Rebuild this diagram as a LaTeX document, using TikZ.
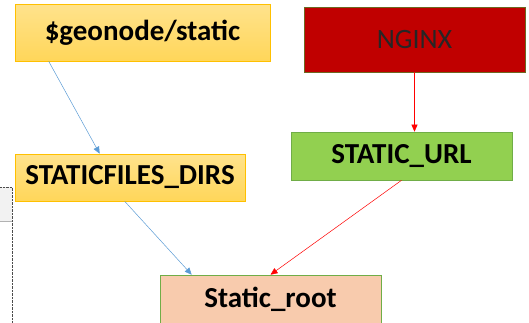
\documentclass[tikz,border=0pt]{standalone}
\usepackage{fontspec}
\setmainfont{Carlito}
\usetikzlibrary{arrows.meta}

\definecolor{boxgold}{HTML}{FFC000}
\definecolor{boxgreen}{HTML}{70AD47}
\definecolor{nginxred}{HTML}{C00000}
\definecolor{urlgreen}{HTML}{92D050}
\definecolor{rootpeach}{HTML}{F8CBAD}
\definecolor{linkblue}{HTML}{5B9BD5}

\begin{document}
\begin{tikzpicture}[x=1pt, y=-1pt,
    box/.style={rectangle, draw, line width=0.6pt, inner sep=0pt,
        font=\fontsize{29}{33}\selectfont\bfseries},
    goldbox/.style={box, draw=boxgold, top color=boxgold!45!white, bottom color=boxgold!65!white},
    bluelink/.style={linkblue, line width=0.5pt, -{Triangle[length=7pt, width=6pt]}},
    redlink/.style={red, line width=0.5pt, -{Triangle[length=7pt, width=6pt]}}]
            \useasboundingbox (0,0) rectangle (529,322);

            % left edge, cut off
            \fill[gray!10] (0,187) rectangle (12,221);
            \draw[gray!60] (0,221) -- (12,221);
            \draw[densely dotted, black!70] (0,187) -- (12,187) -- (12,323);

            \node[goldbox, minimum width=255, minimum height=57] (geo) at (142.5,32.5) {\$geonode/static};
            \node[box, fill=nginxred, draw=olive!70!black, text=black!85, font=\fontsize{28}{32}\selectfont,
                minimum width=221, minimum height=65] (nginx) at (414.5,39.5) {NGINX};
            \node[box, fill=urlgreen, draw=boxgreen, minimum width=221, minimum height=48] (url) at (401.5,156) {STATIC\_URL};
            \node[goldbox, minimum width=230, minimum height=47] (dirs) at (130,177.5) {STATICFILES\_DIRS};
            \node[box, fill=rootpeach, draw=boxgreen, minimum width=221, minimum height=48] (root) at (270.5,299) {Static\_root};

            \draw[bluelink] ([xshift=34]geo.south west) -- ([xshift=85]dirs.north west);
            \draw[bluelink] ([xshift=110]dirs.south west) -- ([xshift=32]root.north west);
            \draw[redlink] (nginx.south) -- (nginx.south |- url.north);
            \draw[redlink] (url.south) -- (root.north);
        \end{tikzpicture}
\end{document}
